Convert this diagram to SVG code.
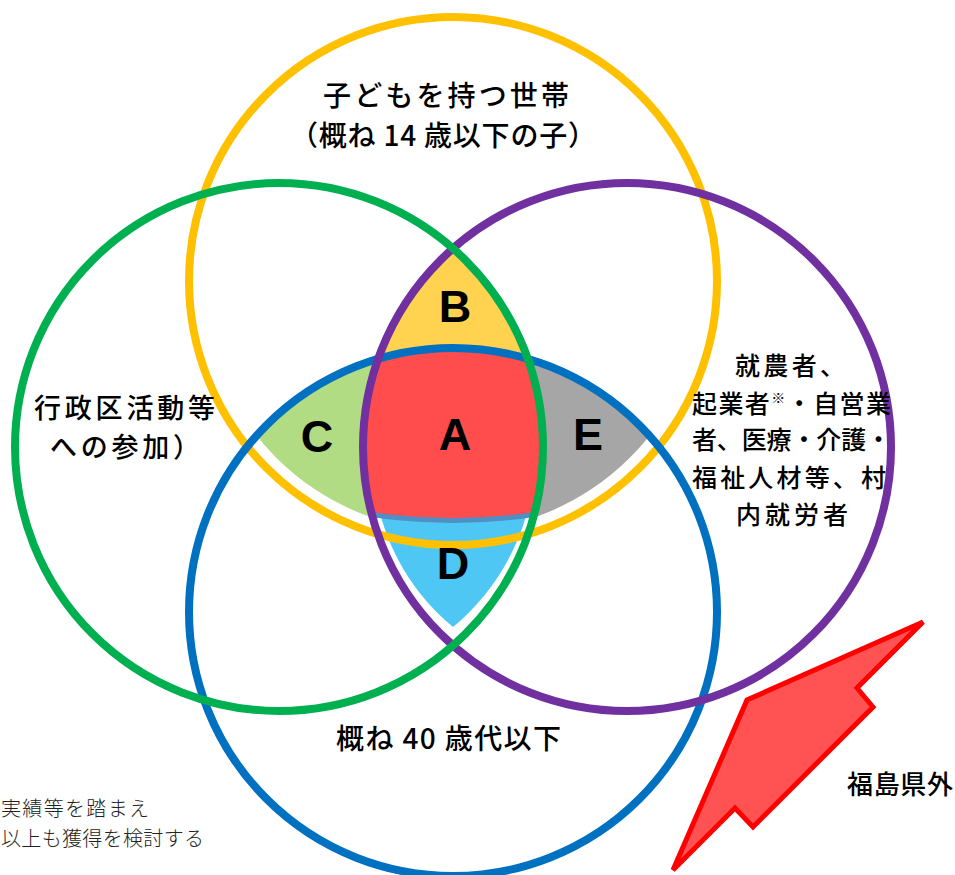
<svg xmlns="http://www.w3.org/2000/svg" width="955" height="875" viewBox="0 0 955 875">
<style>
.ring{fill:none;stroke-width:8}
.jp{font-family:"Noto Sans CJK JP","Noto Sans",sans-serif;fill:#000;font-weight:500}
.lbl{font-family:"Liberation Sans",Arial,sans-serif;font-weight:bold;font-size:45px;fill:#000;text-anchor:middle}
.mincho{font-family:"Liberation Serif","Noto Sans CJK JP",serif;fill:#222;font-size:20px;font-weight:300}
</style>
<defs>
<clipPath id="cG"><circle cx="279" cy="447" r="264"/></clipPath>
<clipPath id="cP"><circle cx="627" cy="447" r="264"/></clipPath>
<clipPath id="cB"><circle cx="453" cy="612" r="264"/></clipPath>
<clipPath id="cYin"><circle cx="453" cy="281" r="250"/></clipPath>
<clipPath id="cArcA"><circle cx="453" cy="-47" r="565"/></clipPath>
<clipPath id="cArcS"><circle cx="453" cy="-42" r="565"/></clipPath>
<clipPath id="cNotP"><path clip-rule="evenodd" d="M-10,-10H965V885H-10Z M363,447a264,264 0 1,0 528,0a264,264 0 1,0 -528,0Z"/></clipPath>
<clipPath id="cNotG"><path clip-rule="evenodd" d="M-10,-10H965V885H-10Z M15,447a264,264 0 1,0 528,0a264,264 0 1,0 -528,0Z"/></clipPath>
<clipPath id="cNotB"><path clip-rule="evenodd" d="M-10,-10H965V885H-10Z M189,612a264,264 0 1,0 528,0a264,264 0 1,0 -528,0Z"/></clipPath>
</defs>

<g id="regions">
  <g id="region-B" clip-path="url(#cG)"><g clip-path="url(#cP)"><g clip-path="url(#cNotB)"><rect x="300" y="200" width="320" height="200" fill="#FFD34F"/></g></g></g>
  <g id="region-C" clip-path="url(#cG)"><g clip-path="url(#cB)"><g clip-path="url(#cYin)"><g clip-path="url(#cNotP)"><rect x="180" y="330" width="220" height="220" fill="#B1DC84"/></g></g></g></g>
  <g id="region-E" clip-path="url(#cP)"><g clip-path="url(#cB)"><g clip-path="url(#cYin)"><g clip-path="url(#cNotG)"><rect x="500" y="330" width="220" height="220" fill="#A6A6A6"/></g></g></g></g>
  <path id="region-D" d="M380,513 C392,560 420,600 453,627 C486,600 514,560 527,513 Z" fill="#4FC7F4"/>
  <g id="region-strip" clip-path="url(#cG)"><g clip-path="url(#cP)"><g clip-path="url(#cB)"><g clip-path="url(#cArcS)"><rect x="340" y="330" width="230" height="230" fill="#4F8FC3"/></g></g></g></g>
  <g id="region-A" clip-path="url(#cG)"><g clip-path="url(#cP)"><g clip-path="url(#cB)"><g clip-path="url(#cArcA)"><rect x="340" y="330" width="230" height="230" fill="#FF4C4C"/></g></g></g></g>
</g>

<g id="circles">
  <circle id="circle-yellow" class="ring" cx="453" cy="281" r="264" stroke="#FFC000"/>
  <circle id="circle-blue" class="ring" cx="453" cy="612" r="264" stroke="#0070C0"/>
  <circle id="circle-purple" class="ring" cx="627" cy="447" r="264" stroke="#7030A0"/>
  <circle id="circle-green" class="ring" cx="279" cy="447" r="264" stroke="#00B050"/>
</g>

<g id="connectors"></g>

<g id="region-labels">
  <text class="lbl" x="455" y="322">B</text>
  <text class="lbl" x="455" y="450">A</text>
  <text class="lbl" x="317" y="452">C</text>
  <text class="lbl" x="588" y="450">E</text>
  <text class="lbl" x="453" y="579">D</text>
</g>

<g id="node-children">
  <text class="jp" x="323" y="106" font-size="28" textLength="246" lengthAdjust="spacing">子どもを持つ世帯</text>
  <text class="jp" x="290" y="146" font-size="28" textLength="306" lengthAdjust="spacing">（概ね 14 歳以下の子）</text>
</g>

<g id="node-region">
  <text class="jp" x="34" y="418" font-size="27" textLength="181" lengthAdjust="spacing">行政区活動等</text>
  <text class="jp" x="50" y="457" font-size="27" textLength="150" lengthAdjust="spacing">への参加）</text>
</g>

<g id="node-workers">
  <text class="jp" x="735" y="375" font-size="25" textLength="110" lengthAdjust="spacing">就農者、</text>
  <text class="jp" x="692" y="412.5" font-size="25" textLength="199" lengthAdjust="spacing">起業者<tspan font-size="14" dy="-10">※</tspan><tspan dy="10">・自営業</tspan></text>
  <text class="jp" x="692" y="449" font-size="25" textLength="199" lengthAdjust="spacing">者、医療・介護・</text>
  <text class="jp" x="692" y="486.5" font-size="25" textLength="194" lengthAdjust="spacing">福祉人材等、村</text>
  <text class="jp" x="736" y="524" font-size="25" textLength="112" lengthAdjust="spacing">内就労者</text>
</g>

<g id="node-age">
  <text class="jp" x="336" y="749" font-size="28" textLength="225" lengthAdjust="spacing">概ね 40 歳代以下</text>
</g>

<g id="node-outside">
  <path d="M923,622 L857,688 L873,707 L753,827 L735,808 L673,870 L747,700 Z" fill="#FF5252" stroke="#FF0000" stroke-width="5" stroke-linejoin="miter"/>
  <text class="jp" x="847" y="794" font-size="26" textLength="106" lengthAdjust="spacing">福島県外</text>
</g>

<g id="note">
  <text class="mincho" x="1" y="816" textLength="148" lengthAdjust="spacing">実績等を踏まえ</text>
  <text class="mincho" x="1" y="846" textLength="203" lengthAdjust="spacing">以上も獲得を検討する</text>
</g>
</svg>
